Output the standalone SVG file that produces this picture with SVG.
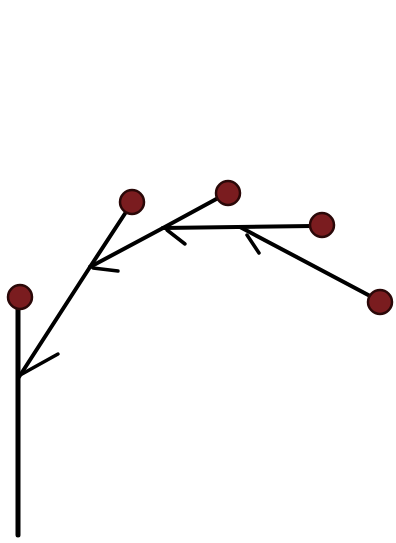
<svg xmlns="http://www.w3.org/2000/svg" width="396" height="543" viewBox="0 0 396 543">
<style>
.e{stroke:#000;stroke-width:4;stroke-linecap:round;fill:none}
.s{stroke-width:5}
.t{stroke-width:3.5}
.n{fill:#7a1c1f;stroke:#2a0808;stroke-width:2.5}
</style>
<rect width="396" height="543" fill="#fff"/>
<g id="connectors">
<line class="e s" x1="18" y1="300" x2="18" y2="535"/>
<line class="e" x1="19" y1="377" x2="90" y2="267"/>
<line class="e t" x1="22" y1="374" x2="58" y2="354"/>
<line class="e" x1="90" y1="267" x2="126" y2="212"/>
<line class="e" x1="90" y1="267" x2="163" y2="228"/>
<line class="e t" x1="93" y1="268" x2="118" y2="271"/>
<line class="e" x1="163" y1="228" x2="220" y2="197"/>
<line class="e" x1="163" y1="228" x2="312" y2="226"/>
<line class="e t" x1="167" y1="230" x2="185" y2="244"/>
<line class="e" x1="240" y1="227" x2="372" y2="297"/>
<line class="e t" x1="247" y1="235" x2="259" y2="253"/>
</g>
<g id="n1"><circle class="n" cx="20" cy="297" r="12"/></g>
<g id="n2"><circle class="n" cx="132" cy="202" r="12"/></g>
<g id="n3"><circle class="n" cx="228" cy="193" r="12"/></g>
<g id="n4"><circle class="n" cx="322" cy="225" r="12"/></g>
<g id="n5"><circle class="n" cx="380" cy="302" r="12"/></g>
</svg>
